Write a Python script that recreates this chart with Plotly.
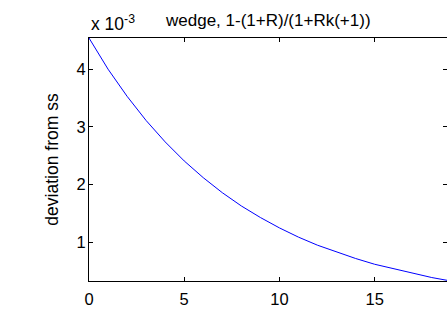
import plotly.graph_objects as go

# data (values in units of 1e-3)
periods = list(range(20))
deviation = [4.54, 4.00, 3.53, 3.11, 2.74, 2.41, 2.12, 1.86, 1.63, 1.43,
             1.25, 1.09, 0.95, 0.83, 0.72, 0.62, 0.54, 0.46, 0.39, 0.33]
x_ticks = [0, 5, 10, 15]
y_ticks = [1, 2, 3, 4]

title_text = "wedge, 1-(1+R)/(1+Rk(+1))"
y_label = "deviation from ss"

FONT = "Liberation Sans, Arial, Helvetica, sans-serif"

fig = go.Figure()
fig.add_trace(go.Scatter(x=periods, y=deviation, mode="lines",
                         line=dict(color="#0000ff", width=1), showlegend=False))

axis_common = dict(showgrid=False, zeroline=False, showline=True, linecolor="black",
                   linewidth=1, ticks="inside", ticklen=4, tickwidth=1, tickcolor="black",
                   mirror="ticks", tickfont=dict(family=FONT, size=16.5, color="black"))

fig.update_layout(
    width=447, height=309,
    margin=dict(l=89, r=0, t=38, b=28),
    paper_bgcolor="white", plot_bgcolor="white",
    xaxis=dict(range=[0, 18.8], tickvals=x_ticks, ticklabelstandoff=3, **axis_common),
    yaxis=dict(range=[0.33, 4.54], tickvals=y_ticks, ticklabelstandoff=-1,
               title=dict(text=y_label, font=dict(family=FONT, size=17.5, color="black"), standoff=13),
               **axis_common),
    font=dict(family=FONT, color="black"),
    annotations=[
        dict(text=title_text, xref="paper", yref="paper", x=0.5, y=1, xanchor="center", yanchor="bottom",
             yshift=6, showarrow=False, font=dict(family=FONT, size=17, color="black"), xshift=0),
        dict(text="x 10<sup>-3</sup>", xref="paper", yref="paper", x=0, y=1, xanchor="left", yanchor="bottom",
             yshift=2, showarrow=False, font=dict(family=FONT, size=17.5, color="black")),
    ],
)

fig.write_html("out.html", config={"displayModeBar": False},
               post_script="document.body.style.margin='0';document.body.style.overflow='hidden';")
